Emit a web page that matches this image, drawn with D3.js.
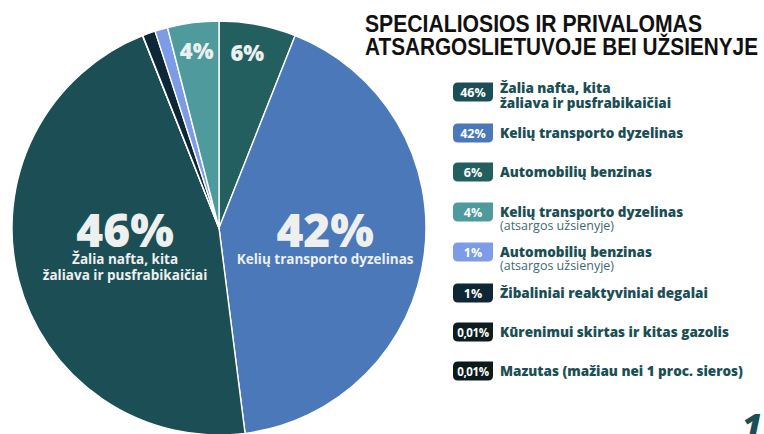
<!DOCTYPE html>
<html>
<head>
<meta charset="utf-8">
<script src="https://cdn.jsdelivr.net/npm/d3@7"></script>
<style>
  html, body { margin: 0; padding: 0; background: #ffffff; }
  svg { display: block; }
</style>
</head>
<body>
<svg id="chart" width="764" height="434"></svg>
<script>
// Fuel reserve shares, legend order
const shares    = [46, 42, 6, 4, 1, 1, 0.01, 0.01];
const badgeText = ["46%", "42%", "6%", "4%", "1%", "1%", "0,01%", "0,01%"];
const names = [
  ["Žalia nafta, kita", "žaliava ir pusfrabikaičiai"],
  ["Kelių transporto dyzelinas"],
  ["Automobilių benzinas"],
  ["Kelių transporto dyzelinas"],
  ["Automobilių benzinas"],
  ["Žibaliniai reaktyviniai degalai"],
  ["Kūrenimui skirtas ir kitas gazolis"],
  ["Mazutas (mažiau nei 1 proc. sieros)"]
];
const notes   = ["", "", "", "(atsargos užsienyje)", "(atsargos užsienyje)", "", "", ""];
const colours = ["#1b4f55", "#4a78b8", "#245f60", "#4e9a9d", "#7d9ce8", "#0e2736", "#0c1c1f", "#0c1a1c"];
// Clockwise slice order starting at 12 o'clock (indices into the arrays above)
const pieOrder = [2, 1, 0, 7, 6, 5, 4, 3];
const titleLines = ["SPECIALIOSIOS IR PRIVALOMAS", "ATSARGOSLIETUVOJE BEI UŽSIENYJE"];

const svg = d3.select("#chart");
const FONT = "'Open Sans', 'Noto Sans', sans-serif";

// ---- Pie ----
const cx = 219, cy = 228, R = 207;
const pie = d3.pie().sort(null).value(i => shares[i]);
const arcs = pie(pieOrder);
const arc = d3.arc().innerRadius(0).outerRadius(R);

const g = svg.append("g").attr("transform", `translate(${cx},${cy})`);
g.selectAll("path.slice")
  .data(arcs)
  .join("path")
  .attr("class", "slice")
  .attr("d", arc)
  .attr("fill", d => colours[d.data])
  .attr("stroke", "#ffffff")
  .attr("stroke-width", 1.4)
  .attr("stroke-linejoin", "round");

// Large in-slice labels for the two main categories
const bigLabels = arcs.filter(d => shares[d.data] >= 40);
bigLabels.forEach(d => {
  const r = d.data === 0 ? 97 : 107;
  const [x, y] = d3.arc().innerRadius(r).outerRadius(r).centroid(d);
  const base = 247 - cy - y;          // baseline of the big percentage
  const grp = g.append("g").attr("transform", `translate(${x},${y})`);
  grp.append("text")
    .attr("text-anchor", "middle")
    .attr("y", base)
    .attr("font-family", FONT)
    .attr("font-weight", 800)
    .attr("font-size", 46)
    .attr("fill", "#eef0f0")
    .text(badgeText[d.data]);
  names[d.data].forEach((line, k) => {
    grp.append("text")
      .attr("text-anchor", "middle")
      .attr("y", base + 17 + k * 16)
      .attr("font-family", FONT)
      .attr("font-weight", 700)
      .attr("font-size", 13.5)
      .attr("fill", "#eef0f0")
      .text(line);
  });
});

// Smaller labels near the rim for the 6% and 4% slices
const rimArc = d3.arc().innerRadius(178).outerRadius(178);
g.selectAll("text.rim")
  .data(arcs.filter(d => shares[d.data] >= 4 && shares[d.data] < 10))
  .join("text")
  .attr("class", "rim")
  .attr("transform", d => {
    const [x, y] = rimArc.centroid(d);
    return `translate(${x + (d.data === 2 ? -5 : 0)},${y + 8})`;
  })
  .attr("text-anchor", "middle")
  .attr("font-family", FONT)
  .attr("font-weight", 800)
  .attr("font-size", 22)
  .attr("fill", "#eaf0f0")
  .text(d => badgeText[d.data]);

// ---- Title ----
const title = svg.append("g");
titleLines.forEach((t, k) => {
  title.append("text")
    .attr("x", 365)
    .attr("y", 32 + k * 23)
    .attr("font-family", "'Liberation Sans', Arial, sans-serif")
    .attr("font-weight", 700)
    .attr("font-size", 23)
    .attr("textLength", k === 0 ? 337 : 393)
    .attr("lengthAdjust", "spacingAndGlyphs")
    .attr("fill", "#111111")
    .text(t);
});

// ---- Legend ----
const rowY = d3.scaleOrdinal()
  .domain(d3.range(shares.length))
  .range([92, 133, 172, 212, 252, 293, 332, 371]);

const badgePath = (w, h) => {
  const r = 5;
  return `M${r},0 H${w} V${h - r} Q${w},${h} ${w - r},${h} H${r} Q0,${h} 0,${h - r} V${r} Q0,0 ${r},0 Z`;
};

const legend = svg.append("g").attr("transform", "translate(453,0)");
const rows = legend.selectAll("g.row")
  .data(d3.range(shares.length))
  .join("g")
  .attr("class", "row")
  .attr("transform", i => `translate(0,${rowY(i)})`);

rows.append("path")
  .attr("d", badgePath(40, 19))
  .attr("transform", "translate(0,-9.5)")
  .attr("fill", i => colours[i]);

rows.append("text")
  .attr("x", 20)
  .attr("y", 4.5)
  .attr("text-anchor", "middle")
  .attr("font-family", FONT)
  .attr("font-weight", 700)
  .attr("font-size", i => shares[i] < 0.1 ? 11.5 : 12.5)
  .attr("fill", "#ffffff")
  .attr("letter-spacing", i => shares[i] < 0.1 ? -0.4 : 0)
  .text(i => badgeText[i]);

rows.each(function (i) {
  const row = d3.select(this);
  const lines = names[i];
  const top = lines.length > 1 ? 1 : 4.5;
  lines.forEach((line, k) => {
    row.append("text")
      .attr("x", 47)
      .attr("y", top + k * 15)
      .attr("font-family", FONT)
      .attr("font-weight", 800)
      .attr("font-size", 13.5)
      .attr("fill", "#1b4f55")
      .text(line);
  });
  if (notes[i]) {
    row.append("text")
      .attr("x", 47)
      .attr("y", 18)
      .attr("font-family", FONT)
      .attr("font-weight", 400)
      .attr("font-size", 12.5)
      .attr("fill", "#3f6a70")
      .text(notes[i]);
  }
});

// Page number
svg.append("text")
  .attr("x", 762)
  .attr("y", 438)
  .attr("text-anchor", "end")
  .attr("font-family", FONT)
  .attr("font-weight", 800)
  .attr("font-style", "italic")
  .attr("font-size", 34)
  .attr("fill", "#1b4f55")
  .text("1");
</script>
</body>
</html>
